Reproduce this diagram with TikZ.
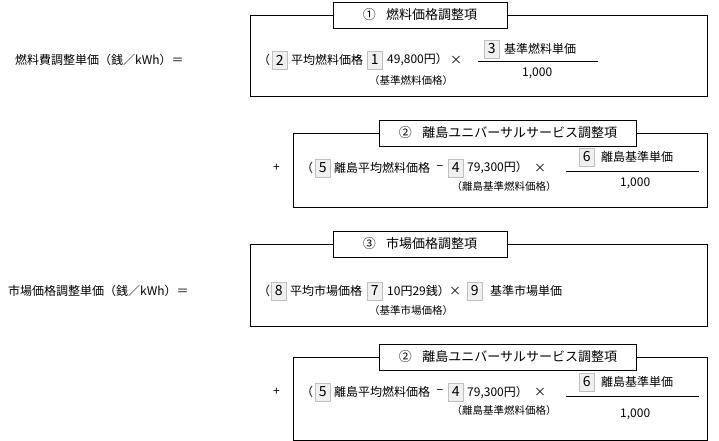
\documentclass[tikz,border=0pt]{standalone}
\usepackage{fontspec}
\setmainfont{Noto Sans CJK JP}
\begin{document}
\begin{tikzpicture}[x=1pt,y=-1pt,
  frame/.style={draw=black,line width=0.8pt},
  ttl/.style={draw=black,fill=white,line width=0.8pt,font=\fontsize{13}{15}\selectfont,inner sep=0pt,minimum height=26pt},
  t/.style={anchor=west,inner sep=0pt,font=\fontsize{12}{14}\selectfont},
  op/.style={inner sep=0pt,font=\fontsize{12}{14}\selectfont},
  sub/.style={inner sep=0pt,font=\fontsize{10.5}{12}\selectfont},
  nb/.style={anchor=west,draw=gray!50,fill=gray!12,inner sep=0pt,minimum width=15pt,minimum height=18pt,font=\fontsize{14}{16}\selectfont}]
\useasboundingbox (0,0) rectangle (719,441);
% ---- block 1
\node[t] (l1) at (15,60) {燃料費調整単価（銭／kWh）＝};
\draw[frame] (250,15) rectangle (707,96);
\node[ttl,minimum width=174pt] (h1) at (420,15) {①\hspace{0.8em}燃料価格調整項};
\node[t] (p1) at (258,60) {（};
\node[nb] (n2) at (272,60) {2};
\node[t] (a1) at (291,60) {平均燃料価格};
\node[op] (m1) at (358,60) {−};
\node[nb] (n1) at (367,60) {1};
\node[t] (b1) at (387,60) {49,800円）};
\node[op] (x1) at (456,60) {×};
\node[sub] (s1) at (411,81) {（基準燃料価格）};
\node[nb] (n3) at (484,49) {3};
\node[t] (c1) at (504,49) {基準燃料単価};
\draw (478,61) -- (598,61);
\node[t] (d1) at (522,73) {1,000};
% ---- block 2
\node[t] (pl1) at (273,168) {+};
\draw[frame] (293,133) rectangle (707,207);
\node[ttl,minimum width=257pt] (h2) at (508,133) {②\hspace{0.8em}離島ユニバーサルサービス調整項};
\node[t] (p2) at (301,168) {（};
\node[nb] (n5) at (315,168) {5};
\node[t] (a2) at (334,168) {離島平均燃料価格};
\node[op] (m2) at (440,168) {−};
\node[nb] (n4) at (448,168) {4};
\node[t] (b2) at (467,168) {79,300円）};
\node[op] (x2) at (540,168) {×};
\node[sub] (s2) at (504,187) {（離島基準燃料価格）};
\node[nb] (n6) at (579,157) {6};
\node[t] (c2) at (601,157) {離島基準単価};
\draw (566,171) -- (699,171);
\node[t] (d2) at (620,183) {1,000};
% ---- block 3
\node[t] (l3) at (8,291) {市場価格調整単価（銭／kWh）＝};
\draw[frame] (250,244) rectangle (707,326);
\node[ttl,minimum width=174pt] (h3) at (420,244) {③\hspace{0.8em}市場価格調整項};
\node[t] (p3) at (258,291) {（};
\node[nb] (n8) at (271,291) {8};
\node[t] (a3) at (290,291) {平均市場価格};
\node[op] (m3) at (358,291) {−};
\node[nb] (n7) at (367,291) {7};
\node[t] (b3) at (387,291) {10円29銭）};
\node[op] (x3) at (455,291) {×};
\node[nb] (n9) at (467,291) {9};
\node[t] (c3) at (490,291) {基準市場単価};
\node[sub] (s3) at (411,311) {（基準市場価格）};
% ---- block 4
\node[t] (pl4) at (273,392) {+};
\draw[frame] (293,357) rectangle (707,440);
\node[ttl,minimum width=257pt] (h4) at (508,357) {②\hspace{0.8em}離島ユニバーサルサービス調整項};
\node[t] (p4) at (301,392) {（};
\node[nb] (n5b) at (315,392) {5};
\node[t] (a4) at (334,392) {離島平均燃料価格};
\node[op] (m4) at (440,392) {−};
\node[nb] (n4b) at (448,392) {4};
\node[t] (b4) at (467,392) {79,300円）};
\node[op] (x4) at (540,392) {×};
\node[sub] (s4) at (504,411) {（離島基準燃料価格）};
\node[nb] (n6b) at (579,382) {6};
\node[t] (c4) at (601,382) {離島基準単価};
\draw (566,396) -- (699,396);
\node[t] (d4) at (620,414) {1,000};
\end{tikzpicture}
\end{document}
